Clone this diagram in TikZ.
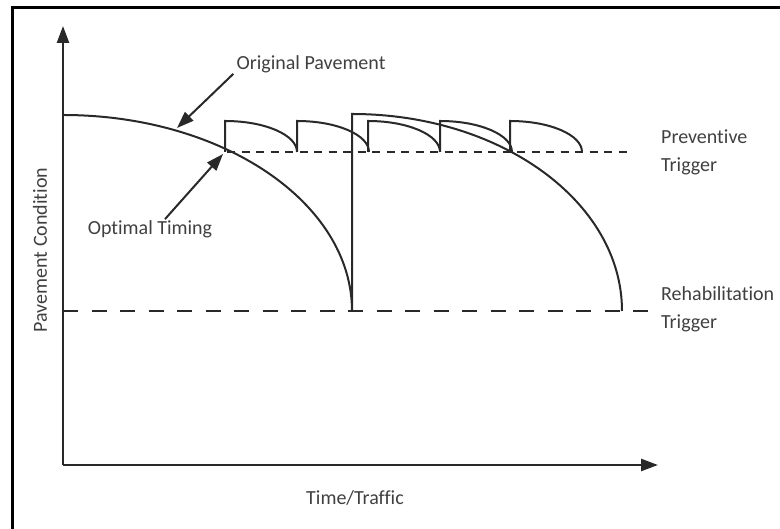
\documentclass[tikz,border=0pt]{standalone}
\usepackage{fontspec}
\setmainfont{Carlito}[Ligatures=NoCommon]
\usepackage{tikz}
\usetikzlibrary{arrows.meta}
\definecolor{LineGray}{rgb}{0.16,0.16,0.16}
\definecolor{TextGray}{rgb}{0.25,0.25,0.25}

\begin{document}
\begin{tikzpicture}[x=1pt, y=1pt,
		>={Triangle[length=17pt, width=12pt]},
		every node/.style={text=TextGray, font=\fontsize{20}{28}\selectfont, inner sep=1pt},
		curve/.style={LineGray, line width=2pt},
		axis/.style={LineGray, line width=2.5pt, ->},
		annot/.style={LineGray, line width=2pt, ->},
		prevline/.style={LineGray, line width=2.6pt, dash pattern=on 8pt off 6.5pt},
		rehabline/.style={LineGray, line width=2.8pt, dash pattern=on 15pt off 13.5pt}]
		
		\useasboundingbox (0,0) rectangle (780,529);
		
		% frame
		\draw[line width=3pt] (780,521) -- (12,521) -- (12,0);
		
		% axes
		\coordinate (O) at (63,64);
		\coordinate (ytip) at (63,503);
		\coordinate (xtip) at (658,64);
		\draw[axis] (O) -- (ytip);
		\draw[axis] (O) -- (xtip);
		\node (timelbl) at (355,31) {Time/Traffic};
		\node[rotate=90] (condlbl) at (40,279) {Pavement Condition};
		
		% trigger levels
		\draw[prevline] (227,377) -- (627,377);
		\draw[rehabline] (63,218) -- (652,218);
		\node[anchor=west, align=left] (prevtrig) at (660,377) {Preventive\\Trigger};
		\node[anchor=west, align=left] (rehabtrig) at (660,220) {Rehabilitation\\Trigger};
		
		% original pavement and rehabilitation
		\draw[curve] (63,414) arc[start angle=90, end angle=0, x radius=289, y radius=196]
			-- (352,415) arc[start angle=90, end angle=0, x radius=270, y radius=197];
		
		% preventive treatments
		\foreach \xs in {225,297,368,440,510}
			\draw[curve] (\xs,377) -- (\xs,408) arc[start angle=90, end angle=0, x radius=72, y radius=31];
		
		% labels with arrows
		\node (orig) at (311,465) {Original Pavement};
		\node (optimal) at (150,300) {Optimal Timing};
		\coordinate (origpt) at (177,401);
		\coordinate (optpt) at (223,375);
		\draw[annot] ([xshift=-2pt]orig.south west) -- (origpt);
		\draw[annot] ([xshift=15pt]optimal.north) -- (optpt);
		
	\end{tikzpicture}
\end{document}
